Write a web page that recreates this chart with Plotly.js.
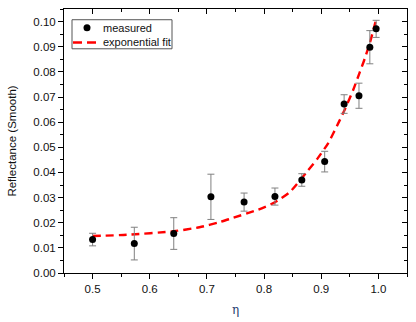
<!DOCTYPE html>
<html>
<head>
<meta charset="utf-8">
<script src="https://cdn.plot.ly/plotly-3.0.1.min.js"></script>
<style>
  html, body { margin: 0; padding: 0; background: #fff; }
  #chart { width: 416px; height: 322px; }
</style>
</head>
<body>
<div id="chart"></div>
<script>
// measured points (eta, reflectance, error)
var etaMeasured = [0.500, 0.573, 0.642, 0.707, 0.765, 0.819, 0.866, 0.906, 0.940, 0.966, 0.985, 0.996];
var reflMeasured = [0.0133, 0.0117, 0.0157, 0.0303, 0.0282, 0.0304, 0.0370, 0.0443, 0.0672, 0.0705, 0.0898, 0.0971];
var reflError = [0.0025, 0.0065, 0.0063, 0.0090, 0.0036, 0.0034, 0.0025, 0.0041, 0.0037, 0.0050, 0.0066, 0.0034];

// exponential fit
var etaFit = [0.500, 0.560, 0.642, 0.687, 0.722, 0.745, 0.790, 0.818, 0.845, 0.874, 0.894, 0.912, 0.929, 0.941, 0.956, 0.967, 0.976, 0.985, 0.996];
var reflFit = [0.0147, 0.0152, 0.0166, 0.0182, 0.0202, 0.0219, 0.0252, 0.0280, 0.0322, 0.0400, 0.0457, 0.0516, 0.0592, 0.0649, 0.0729, 0.0796, 0.0852, 0.0915, 0.1008];

var seriesNames = ['measured', 'exponential fit'];

var xRange = [0.45, 1.05];
var yRange = [0, 0.105];

var fitColor = '#ff0000';
var fitDash = '8px,5px';

var fitTrace = {
    x: etaFit,
    y: reflFit,
    type: 'scatter',
    mode: 'lines',
    name: seriesNames[1],
    line: { color: fitColor, width: 2.4, dash: fitDash, shape: 'spline', smoothing: 0.6 },
    showlegend: false
};

var measuredTrace = {
    x: etaMeasured,
    y: reflMeasured,
    type: 'scatter',
    mode: 'markers',
    name: seriesNames[0],
    marker: { color: '#000', size: 7 },
    error_y: {
        type: 'data',
        array: reflError,
        visible: true,
        color: '#808080',
        thickness: 1,
        width: 3.5
    },
    showlegend: false
};

// dummy trace carries the inward ticks on top and right
var topTrace = { x: xRange, y: yRange, xaxis: 'x2', yaxis: 'y2', mode: 'none', showlegend: false, hoverinfo: 'skip' };

// legend box drawn by hand so it stays as compact as the original
// pixel -> paper helpers for the plot area (64..407, 9.3..272.7)
function px(v) { return (v - 64) / 343; }
function py(v) { return (272.7 - v) / 263.4; }

var legendShapes = [
    { type: 'rect', xref: 'paper', yref: 'paper', x0: px(72), x1: px(172), y0: py(49), y1: py(20),
      line: { color: '#555', width: 1 }, fillcolor: '#fff', layer: 'above' },
    { type: 'circle', xref: 'paper', yref: 'paper', xsizemode: 'pixel', ysizemode: 'pixel',
      xanchor: px(87), yanchor: py(28), x0: -3.5, x1: 3.5, y0: -3.5, y1: 3.5,
      fillcolor: '#000', line: { color: '#000', width: 0 }, layer: 'above' },
    { type: 'line', xref: 'paper', yref: 'paper', x0: px(73), x1: px(100), y0: py(42.7), y1: py(42.7),
      line: { color: fitColor, width: 2.4, dash: '9px,5px' }, layer: 'above' }
];

var legendFont = { family: 'Liberation Sans, Arial, sans-serif', size: 11, color: '#111' };
var legendNotes = [
    { xref: 'paper', yref: 'paper', x: px(101), y: py(28), xanchor: 'left', yanchor: 'middle',
      text: seriesNames[0], showarrow: false, font: legendFont },
    { xref: 'paper', yref: 'paper', x: px(101), y: py(42.7), xanchor: 'left', yanchor: 'middle',
      text: seriesNames[1], showarrow: false, font: legendFont }
];

var tickFont = { family: 'Liberation Sans, Arial, sans-serif', size: 11.5, color: '#111' };
var xTicks = [0.5, 0.6, 0.7, 0.8, 0.9, 1.0];
var xTickText = ['0.5', '0.6', '0.7', '0.8', '0.9', '1.0'];
var yTicks = [0, 0.01, 0.02, 0.03, 0.04, 0.05, 0.06, 0.07, 0.08, 0.09, 0.10];
var yTickText = ['0.00', '0.01', '0.02', '0.03', '0.04', '0.05', '0.06', '0.07', '0.08', '0.09', '0.10'];

var layout = {
    width: 416,
    height: 322,
    margin: { l: 64, r: 9, t: 9, b: 49 },
    paper_bgcolor: '#fff',
    plot_bgcolor: '#fff',
    showlegend: false,
    shapes: legendShapes,
    annotations: legendNotes,
    xaxis: {
        range: xRange,
        tickvals: xTicks,
        ticktext: xTickText,
        ticks: 'outside', ticklen: 5, tickwidth: 1, tickcolor: '#000',
        minor: { dtick: 0.05, tick0: 0, ticks: 'outside', ticklen: 3, tickwidth: 1, tickcolor: '#000' },
        showline: true, linecolor: '#000', linewidth: 1,
        showgrid: false, zeroline: false,
        tickfont: tickFont,
        title: { text: 'η', font: { family: 'DejaVu Serif, serif', size: 12, color: '#1f3c70' }, standoff: 11 }
    },
    yaxis: {
        range: yRange,
        tickvals: yTicks,
        ticktext: yTickText,
        ticks: 'outside', ticklen: 5, tickwidth: 1, tickcolor: '#000',
        minor: { dtick: 0.005, tick0: 0, ticks: 'outside', ticklen: 3, tickwidth: 1, tickcolor: '#000' },
        showline: true, linecolor: '#000', linewidth: 1,
        showgrid: false, zeroline: false,
        tickfont: tickFont,
        title: { text: 'Reflectance (Smooth)', font: { family: 'Liberation Sans, Arial, sans-serif', size: 11.5, color: '#111' }, standoff: 14 }
    },
    xaxis2: {
        overlaying: 'x', side: 'top', range: xRange,
        tickvals: xTicks,
        ticks: 'inside', ticklen: 5, tickwidth: 1, tickcolor: '#000',
        minor: { dtick: 0.05, tick0: 0, ticks: 'inside', ticklen: 3, tickwidth: 1, tickcolor: '#000' },
        showticklabels: false,
        showline: true, linecolor: '#000', linewidth: 1,
        showgrid: false, zeroline: false
    },
    yaxis2: {
        overlaying: 'y', side: 'right', range: yRange,
        tickvals: yTicks,
        ticks: 'inside', ticklen: 5, tickwidth: 1, tickcolor: '#000',
        minor: { dtick: 0.005, tick0: 0, ticks: 'inside', ticklen: 3, tickwidth: 1, tickcolor: '#000' },
        showticklabels: false,
        showline: true, linecolor: '#000', linewidth: 1,
        showgrid: false, zeroline: false
    }
};

Plotly.newPlot('chart', [fitTrace, measuredTrace, topTrace], layout, { displayModeBar: false, staticPlot: true });
</script>
</body>
</html>
